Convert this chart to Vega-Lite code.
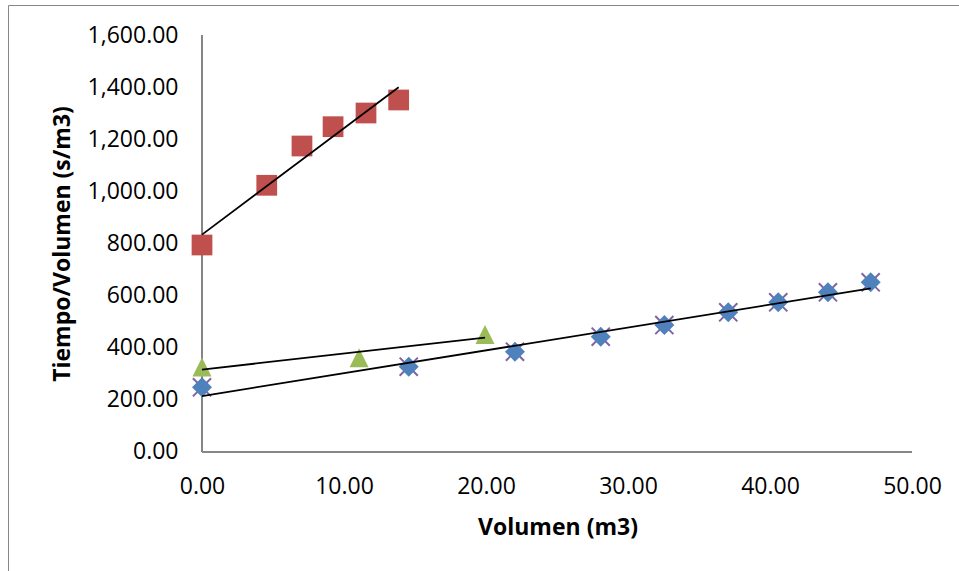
{
  "$schema": "https://vega.github.io/schema/vega-lite/v6.json",
  "width": 960,
  "height": 580,
  "autosize": {"type": "none"},
  "padding": {"left": 8, "top": 5, "right": 0, "bottom": 0},
  "background": "white",
  "config": {"view": {"stroke": "#868686", "strokeWidth": 1}, "font": "Open Sans"},
  "datasets": {
    "pts": [
      {"serie": "A", "v": 0, "t": 247.5},
      {"serie": "A", "v": 14.56, "t": 326.6},
      {"serie": "A", "v": 22.04, "t": 384.2},
      {"serie": "A", "v": 28.08, "t": 441.9},
      {"serie": "A", "v": 32.56, "t": 486.8},
      {"serie": "A", "v": 37.06, "t": 535.6},
      {"serie": "A", "v": 40.58, "t": 574.1},
      {"serie": "A", "v": 44.08, "t": 612.5},
      {"serie": "A", "v": 47.09, "t": 650.9},
      {"serie": "B", "v": 0, "t": 794.2},
      {"serie": "B", "v": 4.56, "t": 1023.6},
      {"serie": "B", "v": 7.04, "t": 1174.6},
      {"serie": "B", "v": 9.23, "t": 1248.8},
      {"serie": "B", "v": 11.55, "t": 1301.4},
      {"serie": "B", "v": 13.85, "t": 1351.4},
      {"serie": "C", "v": 0, "t": 325.5},
      {"serie": "C", "v": 11.06, "t": 361.2},
      {"serie": "C", "v": 19.93, "t": 450.3},
      {"serie": "D", "v": 0, "t": 247.5},
      {"serie": "D", "v": 14.56, "t": 326.6},
      {"serie": "D", "v": 22.04, "t": 384.2},
      {"serie": "D", "v": 28.08, "t": 441.9},
      {"serie": "D", "v": 32.56, "t": 486.8},
      {"serie": "D", "v": 37.06, "t": 535.6},
      {"serie": "D", "v": 40.58, "t": 574.1},
      {"serie": "D", "v": 44.08, "t": 612.5},
      {"serie": "D", "v": 47.09, "t": 650.9}
    ]
  },
  "data": {"name": "pts"},
  "encoding": {
    "x": {
      "field": "v",
      "type": "quantitative",
      "scale": {"domain": [-13.662, 53.944], "nice": false, "zero": false},
      "axis": {
        "orient": "bottom",
        "offset": -133.3,
        "values": [0, 10, 20, 30, 40, 50],
        "format": ",.2f",
        "domain": false,
        "ticks": false,
        "tickSize": 0,
        "grid": false,
        "labelFlush": false,
        "labelOverlap": false,
        "labelPadding": 24,
        "labelFont": "Open Sans",
        "labelFontSize": 23,
        "labelColor": "#000000",
        "title": "Volumen (m3)",
        "titleFont": "Open Sans",
        "titleFontSize": 23,
        "titleFontWeight": "bold",
        "titleColor": "#000000",
        "titlePadding": 18,
        "titleX": 549.5
      }
    },
    "y": {
      "field": "t",
      "type": "quantitative",
      "scale": {"domain": [-512.2, 1716.4], "nice": false, "zero": false},
      "axis": {
        "orient": "left",
        "offset": -194,
        "values": [0, 200, 400, 600, 800, 1000, 1200, 1400, 1600],
        "format": ",.2f",
        "domain": false,
        "ticks": false,
        "tickSize": 0,
        "grid": false,
        "labelFlush": false,
        "labelOverlap": false,
        "labelPadding": 24,
        "labelFont": "Open Sans",
        "labelFontSize": 23,
        "labelColor": "#000000",
        "title": "Tiempo/Volumen (s/m3)",
        "titleFont": "Open Sans",
        "titleFontSize": 23,
        "titleFontWeight": "bold",
        "titleColor": "#000000",
        "titleX": -128,
        "titleY": 238.5
      }
    }
  },
  "layer": [
    {
      "mark": {"type": "rule", "color": "#868686", "strokeWidth": 1.3},
      "encoding": {
        "x": {"datum": 0, "type": "quantitative"},
        "y": {"datum": 0, "type": "quantitative"},
        "y2": {"datum": 1600}
      }
    },
    {
      "mark": {"type": "rule", "color": "#868686", "strokeWidth": 1.3},
      "encoding": {
        "y": {"datum": 0, "type": "quantitative"},
        "x": {"datum": 0, "type": "quantitative"},
        "x2": {"datum": 50}
      }
    },
    {
      "transform": [{"filter": "datum.serie === 'D'"}],
      "mark": {"type": "point", "shape": "M-1,-1L1,1M1,-1L-1,1", "filled": false, "stroke": "#8064A2", "strokeWidth": 2, "size": 330, "opacity": 1}
    },
    {
      "transform": [{"filter": "datum.serie === 'A'"}],
      "mark": {"type": "point", "shape": "M0,-1L1,0L0,1L-1,0Z", "filled": true, "color": "#4F81BD", "size": 400, "opacity": 1}
    },
    {
      "transform": [{"filter": "datum.serie === 'B'"}],
      "mark": {"type": "point", "shape": "square", "filled": true, "color": "#C0504D", "size": 430, "opacity": 1}
    },
    {
      "transform": [{"filter": "datum.serie === 'C'"}],
      "mark": {"type": "point", "shape": "M0,-1L1,1L-1,1Z", "filled": true, "color": "#9BBB59", "size": 361, "opacity": 1}
    },
    {
      "transform": [
        {"filter": "datum.serie !== 'D'"},
        {"regression": "t", "on": "v", "groupby": ["serie"]}
      ],
      "mark": {"type": "line", "color": "#000000", "strokeWidth": 1.8},
      "encoding": {"detail": {"field": "serie", "type": "nominal"}}
    }
  ]
}
